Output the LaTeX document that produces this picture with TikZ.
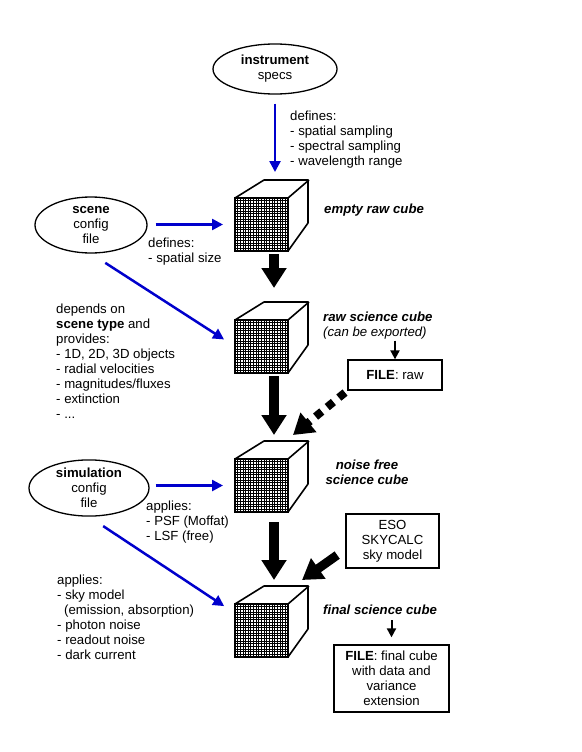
\documentclass[tikz,border=0pt]{standalone}
\usepackage{fontspec}
\setmainfont{Liberation Sans}
\usepackage{tikz}
\usetikzlibrary{arrows.meta, positioning, shapes.geometric}
\definecolor{feedblue}{RGB}{0,0,204}

\newcommand{\datacube}[2]{%
  \node[cubeface] (#1) at (#2) {};
  \draw[cubeedge] (#1.north west) -- ++(29,-18) -- ++(44,0) -- ++(0,43) -- (#1.south east);
  \draw[cubeedge] (#1.north east) -- ++(21,-18);
}

\begin{document}
\begin{tikzpicture}[x=1pt, y=-1pt,
    every node/.style={font=\fontsize{13.2}{15}\selectfont, inner sep=0pt},
    source/.style={ellipse, draw, line width=1.3pt, align=center},
    filebox/.style={rectangle, draw, line width=1.3pt, align=center},
    note/.style={anchor=north west, align=left},
    cubelabel/.style={anchor=north west, align=left, font=\fontsize{13.2}{15}\selectfont\bfseries\itshape},
    cubeface/.style={rectangle, draw, line width=2.4pt, minimum size=53pt, outer sep=0pt, fill=white,
      path picture={\draw[line width=0.9pt] (path picture bounding box.south west) grid[step=2.65pt] (path picture bounding box.north east);}},
    cubeedge/.style={line width=1.6pt, line join=round},
    feed/.style={draw=feedblue, line width=2.5pt, -{Triangle[length=11pt,width=11pt]}},
    flow/.style={line width=9.5pt, -{Triangle[length=20pt,width=24pt]}},
    pointer/.style={line width=2pt, -{Triangle[length=9pt,width=9pt]}},
  ]
  \useasboundingbox (0,0) rectangle (581,752);

  % inputs
  \node[source, minimum width=124pt, minimum height=50pt] (instr) at (275,69) {\textbf{instrument}\\specs};
  \node[source, minimum width=112pt, minimum height=56pt] (scene) at (91,225) {\textbf{scene}\\config\\file};
  \node[source, minimum width=120pt, minimum height=52pt] (sim) at (89,488) {\textbf{simulation}\\config\\file};

  % cubes
  \datacube{emptycube}{261.5,224.5}
  \datacube{rawcube}{261.5,346.5}
  \datacube{cleancube}{261.5,485.5}
  \datacube{finalcube}{261.5,630.5}

  \node[cubelabel] (emptylabel) at (324,204) {empty raw cube};
  \node[cubelabel] (rawlabel) at (323,312) {raw science cube\\\mdseries\itshape (can be exported)};
  \node[cubelabel, anchor=north, align=center] (cleanlabel) at (367,460) {noise free\\science cube};
  \node[cubelabel] (finallabel) at (323,605) {final science cube};

  % files and sky model
  \node[filebox, minimum width=94pt, minimum height=30pt] (rawfile) at (395,375) {\textbf{FILE}: raw};
  \node[filebox, minimum width=93pt, minimum height=54pt] (skymodel) at (392.5,541) {ESO\\SKYCALC\\sky model};
  \node[filebox, minimum width=115pt, minimum height=67pt] (finalfile) at (391.5,678.5) {\textbf{FILE}: final cube\\with data and\\variance\\extension};

  % notes
  \node[note] (instrnote) at (290,111) {defines:\\- spatial sampling\\- spectral sampling\\- wavelength range};
  \node[note] (sizenote) at (148,238) {defines:\\- spatial size};
  \node[note] (scenenote) at (56,304) {depends on\\\textbf{scene type} and\\provides:\\- 1D, 2D, 3D objects\\- radial velocities\\- magnitudes/fluxes\\- extinction\\- ...};
  \node[note] (psfnote) at (146,501) {applies:\\- PSF (Moffat)\\- LSF (free)};
  \node[note] (skynote) at (57,575) {applies:\\- sky model\\\hspace*{7pt}(emission, absorption)\\- photon noise\\- readout noise\\- dark current};

  % blue inputs
  \draw[feed, shorten <=9pt, shorten >=26pt] (instr.south) -- (instr.south |- emptycube.north);
  \draw[feed, shorten <=8pt, shorten >=12pt] (scene.east |- emptycube.west) -- (emptycube.west);
  \draw[feed, shorten <=17pt, shorten >=13pt] (scene.south) -- (rawcube.west);
  \draw[feed, shorten <=6pt, shorten >=12pt] (sim.east |- cleancube.west) -- (cleancube.west);
  \draw[feed, shorten <=17pt, shorten >=13pt] (sim.south) -- (finalcube.147);

  % main flow
  \draw[flow, shorten <=3pt, shorten >=32pt] ([xshift=12.5pt]emptycube.south) -- ([xshift=12.5pt]rawcube.north);
  \draw[flow, shorten <=3pt, shorten >=24pt] ([xshift=12.5pt]rawcube.south) -- ([xshift=12.5pt]cleancube.north);
  \draw[flow, shorten <=10pt, shorten >=24pt] ([xshift=12.5pt]cleancube.south) -- ([xshift=12.5pt]finalcube.north);

  \coordinate (rawtip) at (293,435);
  \coordinate (skytip) at (302,580);
  \draw[flow, line width=8pt, dash pattern=on 8pt off 7pt, shorten <=3pt] (rawfile.south west) -- (rawtip);
  \draw[flow, line width=9pt, shorten <=10pt] (skymodel.190) -- (skytip);

  % export
  \draw[pointer, shorten <=1pt] (rawlabel.south -| rawfile.north) -- (rawfile.north);
  \draw[pointer, shorten <=5pt, shorten >=7pt] (finallabel.south -| finalfile.north) -- (finalfile.north);
\end{tikzpicture}
\end{document}
